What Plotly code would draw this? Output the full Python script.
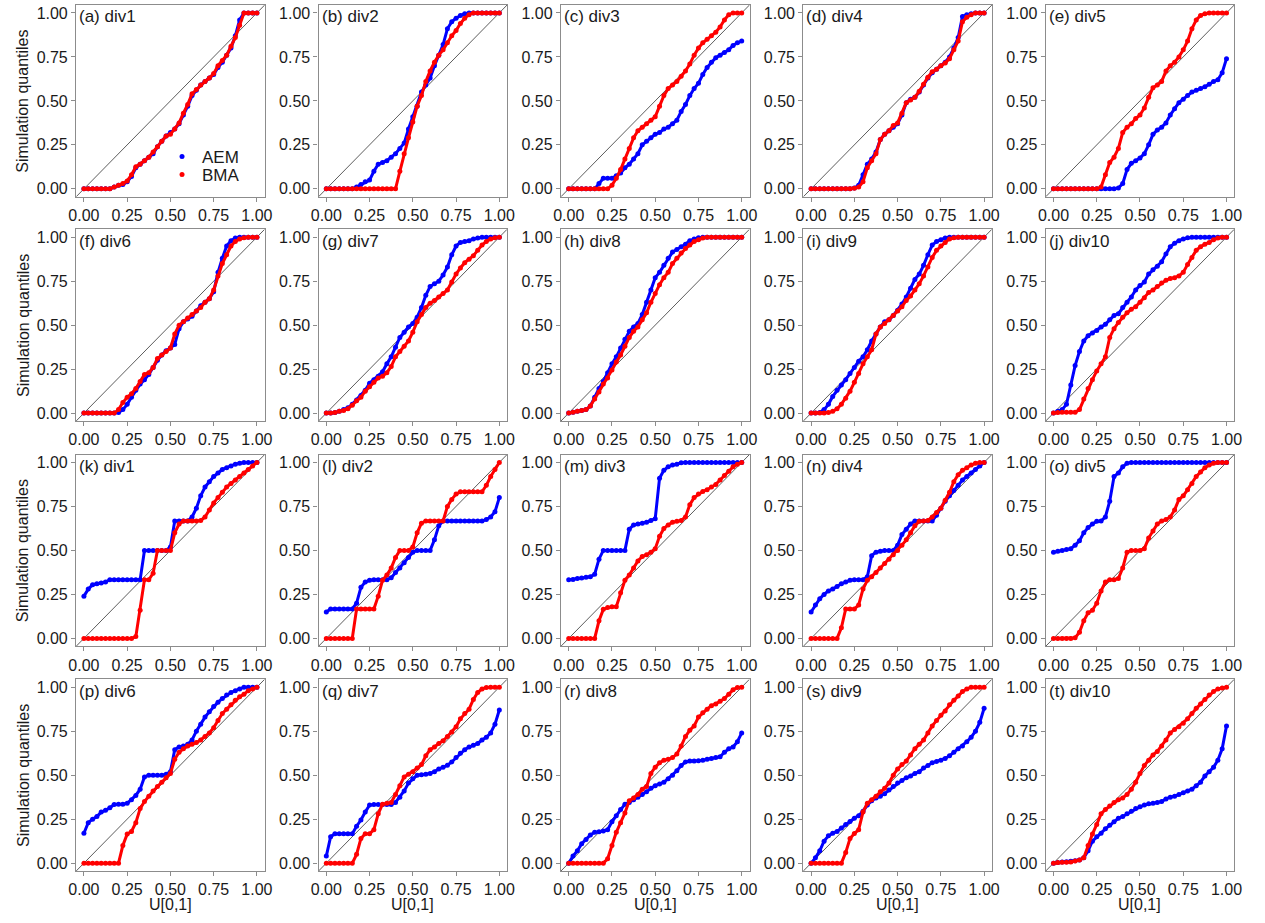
import plotly.graph_objects as go

# Uniform quantile positions U[0,1]
U = [0.0, 0.025, 0.05, 0.075, 0.1, 0.125, 0.15, 0.175, 0.2, 0.225,
     0.25, 0.275, 0.3, 0.325, 0.35, 0.375, 0.4, 0.425, 0.45, 0.475,
     0.5, 0.525, 0.55, 0.575, 0.6, 0.625, 0.65, 0.675, 0.7, 0.725,
     0.75, 0.775, 0.8, 0.825, 0.85, 0.875, 0.9, 0.925, 0.95, 0.975, 1.0]

TICKVALS = [0, 0.25, 0.5, 0.75, 1.0]
TICKTEXT = ["0.00", "0.25", "0.50", "0.75", "1.00"]

LABELS = ["(a) div1", "(b) div2", "(c) div3", "(d) div4", "(e) div5",
          "(f) div6", "(g) div7", "(h) div8", "(i) div9", "(j) div10",
          "(k) div1", "(l) div2", "(m) div3", "(n) div4", "(o) div5",
          "(p) div6", "(q) div7", "(r) div8", "(s) div9", "(t) div10"]

aem_a = [0,0,0,0,0,0,0,0.01,0.02,0.025, 0.04,0.07,0.12,0.14,0.16,0.18,0.20,0.24,0.27,0.30,
         0.32,0.34,0.37,0.42,0.47,0.53,0.56,0.59,0.61,0.63, 0.65,0.69,0.72,0.76,0.80,0.87,0.96,1,1,1, 1]
bma_a = [0,0,0,0,0,0,0,0.01,0.02,0.03, 0.045,0.08,0.125,0.14,0.16,0.18,0.21,0.24,0.27,0.30,
         0.31,0.34,0.375,0.43,0.48,0.54,0.565,0.59,0.61,0.63, 0.655,0.70,0.73,0.76,0.81,0.86,0.93,1,1,1, 1]
aem_b = [0,0,0,0,0,0,0,0.01,0.025,0.04, 0.05,0.10,0.14,0.15,0.16,0.18,0.20,0.23,0.26,0.34,
         0.41,0.47,0.55,0.59,0.63,0.70,0.76,0.82,0.91,0.95, 0.97,0.985,0.995,1,1,1,1,1,1,1, 1]
bma_b = [0,0,0,0,0,0,0,0,0,0, 0,0,0,0,0,0,0,0.10,0.20,0.29,
         0.38,0.47,0.53,0.61,0.67,0.72,0.76,0.79,0.83,0.87, 0.90,0.94,0.97,0.99,1,1,1,1,1,1, 1]
aem_c = [0,0,0,0,0,0,0,0.03,0.06,0.06, 0.06,0.075,0.09,0.12,0.14,0.17,0.20,0.25,0.27,0.29,
         0.31,0.32,0.34,0.35,0.37,0.39,0.44,0.48,0.53,0.57, 0.60,0.65,0.69,0.72,0.745,0.76,0.775,0.79,0.815,0.83, 0.84]
bma_c = [0,0,0,0,0,0,0,0,0,0, 0.02,0.06,0.11,0.17,0.23,0.29,0.33,0.35,0.37,0.39,
         0.41,0.47,0.53,0.57,0.59,0.61,0.64,0.67,0.71,0.76, 0.80,0.83,0.85,0.87,0.89,0.92,0.96,0.99,1,1, 1]
aem_d = [0,0,0,0,0,0,0,0,0,0, 0.005,0.02,0.08,0.14,0.17,0.21,0.28,0.31,0.33,0.35,
         0.37,0.42,0.49,0.51,0.52,0.55,0.59,0.63,0.66,0.68, 0.70,0.72,0.75,0.80,0.86,0.98,0.99,0.995,1,1, 1]
bma_d = [0,0,0,0,0,0,0,0,0,0, 0.003,0.01,0.04,0.12,0.16,0.20,0.28,0.31,0.33,0.36,
         0.375,0.43,0.49,0.505,0.52,0.555,0.595,0.635,0.665,0.68, 0.70,0.715,0.74,0.79,0.84,0.95,0.975,0.99,1,1, 1]
aem_e = [0,0,0,0,0,0,0,0,0,0, 0,0,0,0,0,0.005,0.03,0.11,0.145,0.16,
         0.175,0.20,0.25,0.31,0.335,0.35,0.375,0.42,0.455,0.49, 0.51,0.53,0.55,0.56,0.57,0.58,0.595,0.61,0.62,0.66, 0.74]
bma_e = [0,0,0,0,0,0,0,0,0,0, 0,0.01,0.08,0.15,0.18,0.23,0.32,0.35,0.37,0.40,
         0.42,0.46,0.52,0.575,0.59,0.61,0.67,0.70,0.72,0.75, 0.79,0.84,0.91,0.96,0.985,0.995,1,1,1,1, 1]
aem_f = [0,0,0,0,0,0,0,0,0.003,0.02, 0.05,0.09,0.13,0.165,0.19,0.22,0.26,0.30,0.33,0.355,
         0.37,0.39,0.48,0.52,0.535,0.55,0.58,0.61,0.63,0.65, 0.69,0.80,0.88,0.95,0.98,0.995,1,1,1,1, 1]
bma_f = [0,0,0,0,0,0,0,0,0.02,0.06, 0.09,0.11,0.14,0.18,0.22,0.23,0.26,0.31,0.33,0.35,
         0.37,0.45,0.50,0.52,0.54,0.56,0.58,0.60,0.63,0.65, 0.70,0.78,0.85,0.90,0.95,0.975,0.99,0.997,1,1, 1]
aem_g = [0,0,0.003,0.01,0.02,0.03,0.05,0.075,0.10,0.13, 0.17,0.19,0.21,0.235,0.28,0.32,0.375,0.43,0.46,0.49,
         0.51,0.545,0.60,0.67,0.72,0.735,0.75,0.785,0.83,0.90, 0.95,0.97,0.975,0.98,0.99,0.995,1,1,1,1, 1]
bma_g = [0,0,0.003,0.01,0.015,0.025,0.045,0.07,0.09,0.125, 0.15,0.175,0.20,0.21,0.23,0.265,0.32,0.35,0.38,0.41,
         0.46,0.52,0.56,0.60,0.625,0.64,0.66,0.68,0.70,0.745, 0.79,0.825,0.855,0.875,0.895,0.925,0.955,0.975,0.99,0.997, 1]
aem_h = [0,0.005,0.01,0.015,0.02,0.04,0.09,0.14,0.18,0.23, 0.28,0.32,0.37,0.42,0.465,0.49,0.51,0.56,0.63,0.70,
         0.77,0.80,0.84,0.88,0.915,0.93,0.945,0.96,0.98,0.99, 0.997,1,1,1,1,1,1,1,1,1, 1]
bma_h = [0,0.005,0.01,0.015,0.02,0.04,0.08,0.12,0.165,0.20, 0.245,0.29,0.33,0.38,0.43,0.465,0.49,0.53,0.57,0.63,
         0.68,0.73,0.77,0.80,0.85,0.88,0.91,0.935,0.955,0.975, 0.985,0.995,1,1,1,1,1,1,1,1, 1]
aem_i = [0,0,0.003,0.02,0.05,0.095,0.13,0.16,0.19,0.225, 0.26,0.295,0.32,0.36,0.41,0.45,0.49,0.52,0.53,0.555,
         0.585,0.62,0.66,0.71,0.76,0.79,0.84,0.90,0.955,0.975, 0.985,0.995,1,1,1,1,1,1,1,1, 1]
bma_i = [0,0,0,0,0.003,0.01,0.025,0.05,0.085,0.125, 0.175,0.225,0.28,0.32,0.36,0.45,0.49,0.51,0.53,0.555,
         0.58,0.605,0.64,0.665,0.70,0.735,0.78,0.83,0.885,0.925, 0.95,0.97,0.99,0.997,1,1,1,1,1,1, 1]
aem_j = [0,0.01,0.02,0.05,0.16,0.27,0.35,0.41,0.44,0.455, 0.47,0.49,0.505,0.53,0.555,0.565,0.60,0.63,0.66,0.70,
         0.725,0.745,0.79,0.815,0.835,0.86,0.905,0.945,0.965,0.98, 0.99,0.997,1,1,1,1,1,1,1,1, 1]
bma_j = [0,0.003,0.005,0.005,0.005,0.005,0.02,0.08,0.14,0.19, 0.24,0.28,0.32,0.43,0.48,0.515,0.545,0.57,0.59,0.605,
         0.63,0.655,0.685,0.70,0.72,0.74,0.755,0.765,0.77,0.78, 0.80,0.845,0.885,0.925,0.945,0.96,0.97,0.985,0.995,1, 1]
aem_k = [0.24,0.28,0.305,0.31,0.315,0.32,0.333,0.333,0.333,0.333, 0.333,0.333,0.333,0.333,0.50,0.50,0.50,0.50,0.50,0.50,
         0.52,0.667,0.667,0.667,0.667,0.69,0.74,0.81,0.86,0.89, 0.92,0.94,0.96,0.97,0.98,0.99,0.995,1,1,1, 1]
bma_k = [0,0,0,0,0,0,0,0,0,0, 0,0,0.01,0.16,0.333,0.333,0.37,0.50,0.50,0.50,
         0.50,0.60,0.65,0.667,0.667,0.667,0.667,0.67,0.69,0.73, 0.77,0.80,0.83,0.86,0.88,0.90,0.92,0.94,0.96,0.98, 1]
aem_l = [0.15,0.167,0.167,0.167,0.167,0.167,0.167,0.20,0.29,0.32, 0.33,0.333,0.333,0.333,0.333,0.345,0.375,0.40,0.43,0.46,
         0.49,0.50,0.50,0.50,0.50,0.56,0.64,0.667,0.667,0.667, 0.667,0.667,0.667,0.667,0.667,0.667,0.667,0.675,0.69,0.72, 0.80]
bma_l = [0,0,0,0,0,0,0,0.167,0.167,0.167, 0.167,0.167,0.24,0.33,0.36,0.40,0.46,0.50,0.50,0.50,
         0.52,0.60,0.655,0.667,0.667,0.667,0.667,0.667,0.75,0.79, 0.82,0.833,0.833,0.833,0.833,0.833,0.833,0.87,0.92,0.96, 1]
aem_m = [0.333,0.335,0.34,0.343,0.347,0.35,0.365,0.45,0.50,0.50, 0.50,0.50,0.50,0.50,0.62,0.645,0.65,0.655,0.66,0.67,
         0.68,0.91,0.955,0.975,0.985,0.99,0.998,1,1,1, 1,1,1,1,1,1,1,1,1,1, 1]
bma_m = [0,0,0,0,0,0,0,0.10,0.165,0.175, 0.18,0.18,0.26,0.33,0.36,0.40,0.44,0.465,0.475,0.49,
         0.51,0.58,0.625,0.645,0.66,0.665,0.67,0.69,0.76,0.80, 0.82,0.835,0.845,0.86,0.875,0.90,0.925,0.95,0.975,0.99, 1]
aem_n = [0.15,0.19,0.225,0.25,0.27,0.28,0.295,0.31,0.32,0.33, 0.333,0.333,0.333,0.35,0.47,0.49,0.495,0.50,0.50,0.50,
         0.53,0.59,0.62,0.65,0.667,0.667,0.667,0.667,0.667,0.70, 0.74,0.78,0.81,0.84,0.87,0.90,0.92,0.94,0.96,0.98, 1]
bma_n = [0,0,0,0,0,0,0,0.06,0.167,0.167, 0.167,0.19,0.28,0.33,0.35,0.375,0.40,0.425,0.45,0.475,
         0.50,0.53,0.56,0.60,0.64,0.665,0.667,0.67,0.69,0.715, 0.74,0.785,0.83,0.89,0.93,0.955,0.97,0.985,0.995,1, 1]
aem_o = [0.49,0.495,0.50,0.505,0.51,0.53,0.555,0.60,0.63,0.65, 0.665,0.667,0.69,0.78,0.92,0.94,0.975,0.995,1,1,
         1,1,1,1,1,1,1,1,1,1, 1,1,1,1,1,1,1,1,1,1, 1]
bma_o = [0,0,0,0,0,0.003,0.035,0.10,0.145,0.16, 0.20,0.27,0.32,0.333,0.333,0.34,0.40,0.49,0.50,0.50,
         0.50,0.51,0.57,0.61,0.65,0.667,0.675,0.69,0.73,0.79, 0.81,0.845,0.88,0.92,0.945,0.97,0.985,0.995,1,1, 1]
aem_p = [0.17,0.23,0.25,0.265,0.29,0.30,0.315,0.333,0.335,0.335, 0.34,0.36,0.385,0.42,0.49,0.50,0.50,0.50,0.50,0.505,
         0.52,0.645,0.66,0.665,0.675,0.70,0.75,0.79,0.83,0.86, 0.89,0.915,0.935,0.955,0.97,0.98,0.99,1,1,1, 1]
bma_p = [0,0,0,0,0,0,0,0,0,0.10, 0.165,0.18,0.23,0.31,0.35,0.38,0.41,0.435,0.46,0.485,
         0.51,0.59,0.63,0.65,0.665,0.675,0.685,0.70,0.72,0.74, 0.77,0.81,0.85,0.875,0.90,0.925,0.945,0.96,0.98,0.99, 1]
aem_q = [0.04,0.15,0.167,0.167,0.167,0.167,0.167,0.21,0.245,0.29, 0.33,0.333,0.333,0.333,0.333,0.333,0.345,0.375,0.41,0.455,
         0.48,0.50,0.502,0.505,0.51,0.52,0.535,0.545,0.557,0.575, 0.60,0.625,0.645,0.66,0.67,0.68,0.70,0.715,0.74,0.79, 0.87]
bma_q = [0,0,0,0,0,0,0,0.05,0.14,0.167, 0.167,0.19,0.28,0.335,0.34,0.345,0.39,0.44,0.49,0.505,
         0.52,0.54,0.56,0.61,0.645,0.66,0.68,0.695,0.72,0.745, 0.775,0.82,0.85,0.875,0.93,0.97,0.99,0.998,1,1, 1]
aem_r = [0,0.04,0.07,0.11,0.135,0.16,0.175,0.178,0.183,0.19, 0.235,0.27,0.305,0.335,0.345,0.36,0.375,0.39,0.405,0.425,
         0.44,0.45,0.46,0.48,0.50,0.525,0.555,0.575,0.58,0.58, 0.582,0.585,0.59,0.595,0.60,0.605,0.63,0.65,0.66,0.69, 0.74]
bma_r = [0,0,0,0,0,0,0,0,0,0.025, 0.10,0.175,0.23,0.285,0.355,0.37,0.39,0.42,0.435,0.51,
         0.545,0.57,0.585,0.59,0.60,0.62,0.665,0.72,0.755,0.78, 0.83,0.855,0.875,0.895,0.905,0.92,0.935,0.96,0.985,0.998, 1]
aem_s = [0,0.03,0.07,0.125,0.155,0.17,0.18,0.20,0.22,0.237, 0.255,0.27,0.295,0.33,0.355,0.37,0.38,0.395,0.415,0.435,
         0.455,0.47,0.485,0.495,0.51,0.52,0.54,0.555,0.57,0.578, 0.585,0.595,0.61,0.63,0.65,0.665,0.69,0.715,0.75,0.80, 0.88]
bma_s = [0,0,0,0,0,0,0,0,0.06,0.14, 0.168,0.19,0.29,0.34,0.36,0.38,0.405,0.425,0.455,0.50,
         0.535,0.56,0.58,0.615,0.65,0.675,0.70,0.74,0.78,0.81, 0.84,0.865,0.90,0.925,0.95,0.975,0.99,1,1,1, 1]
aem_t = [0,0.003,0.006,0.008,0.01,0.013,0.018,0.03,0.07,0.125, 0.15,0.17,0.195,0.215,0.235,0.255,0.265,0.28,0.295,0.31,
         0.32,0.33,0.337,0.34,0.345,0.35,0.365,0.375,0.38,0.39, 0.40,0.41,0.42,0.44,0.46,0.495,0.52,0.545,0.585,0.65, 0.78]
bma_t = [0,0.003,0.005,0.005,0.007,0.012,0.018,0.03,0.10,0.165, 0.22,0.28,0.305,0.325,0.345,0.36,0.37,0.39,0.42,0.46,
         0.51,0.555,0.585,0.615,0.635,0.665,0.70,0.74,0.76,0.775, 0.795,0.82,0.85,0.88,0.905,0.93,0.955,0.975,0.99,0.995, 1]

AEM = [aem_a, aem_b, aem_c, aem_d, aem_e, aem_f, aem_g, aem_h, aem_i, aem_j,
       aem_k, aem_l, aem_m, aem_n, aem_o, aem_p, aem_q, aem_r, aem_s, aem_t]
BMA = [bma_a, bma_b, bma_c, bma_d, bma_e, bma_f, bma_g, bma_h, bma_i, bma_j,
       bma_k, bma_l, bma_m, bma_n, bma_o, bma_p, bma_q, bma_r, bma_s, bma_t]

W, H = 1265, 923
COL_LEFT = [69, 314.5, 560, 805.5, 1051]
PANEL_W = 191
ROW_TOP = [5, 229.5, 455, 680]
PANEL_H = 192
RNG = [-0.045, 1.045]
FONT = "Liberation Sans, Arial, sans-serif"
BLUE = "#0000ff"
RED = "#ff0000"
BOX = "#8c8c8c"
TXT = "#1a1a1a"

fig = go.Figure()
shapes = []
annotations = []
layout_axes = {}

for idx in range(20):
    r, c = divmod(idx, 5)
    n = idx + 1
    xs = "" if n == 1 else str(n)
    xname, yname = "x" + xs, "y" + xs
    x0 = COL_LEFT[c] / W
    x1 = (COL_LEFT[c] + PANEL_W) / W
    y1 = 1 - ROW_TOP[r] / H
    y0 = 1 - (ROW_TOP[r] + PANEL_H) / H
    axcommon = dict(range=RNG, tickvals=TICKVALS, ticktext=TICKTEXT, ticks="outside",
                    ticklen=4, tickwidth=1, tickcolor=BOX, showline=True, mirror=True,
                    linecolor=BOX, linewidth=1.3, showgrid=False, zeroline=False,
                    tickfont=dict(family=FONT, size=16, color=TXT), fixedrange=True)
    layout_axes["xaxis" + xs] = dict(domain=[x0, x1], anchor=yname, **axcommon)
    layout_axes["yaxis" + xs] = dict(domain=[y0, y1], anchor=xname, **axcommon)

    shapes.append(dict(type="line", xref=xname, yref=yname, x0=RNG[0], y0=RNG[0],
                       x1=RNG[1], y1=RNG[1], line=dict(color="#333333", width=0.8),
                       layer="below"))

    for name, vals, col, leg in (("AEM", AEM[idx], BLUE, "legend"),
                                 ("BMA", BMA[idx], RED, "legend2")):
        # thin connecting stroke so the dense dot band reads as continuous
        fig.add_trace(go.Scatter(x=U, y=vals, mode="lines", name=name,
                                 line=dict(color=col, width=3),
                                 xaxis=xname, yaxis=yname, showlegend=False,
                                 hoverinfo="skip"))
        fig.add_trace(go.Scatter(x=U, y=vals, mode="markers", name=name,
                                 marker=dict(color=col, size=5, line=dict(width=0)),
                                 xaxis=xname, yaxis=yname, showlegend=(idx == 0),
                                 legend=leg))

    annotations.append(dict(text=LABELS[idx], xref="paper", yref="paper",
                            x=(COL_LEFT[c] + 1) / W, y=1 - (ROW_TOP[r] + 12) / H,
                            xanchor="left", yanchor="middle", showarrow=False,
                            font=dict(family=FONT, size=17, color=TXT)))
    if c == 0:
        annotations.append(dict(text="Simulation quantiles", xref="paper", yref="paper",
                                x=15 / W, y=1 - (ROW_TOP[r] + PANEL_H / 2) / H,
                                xanchor="center", yanchor="middle", textangle=-90,
                                showarrow=False,
                                font=dict(family=FONT, size=16, color=TXT)))
    if r == 3:
        annotations.append(dict(text="U[0,1]", xref="paper", yref="paper",
                                x=(COL_LEFT[c] + PANEL_W / 2) / W, y=1 - 905 / H,
                                xanchor="center", yanchor="middle", showarrow=False,
                                font=dict(family=FONT, size=16, color=TXT)))

legend_common = dict(xanchor="left", yanchor="top", bgcolor="rgba(0,0,0,0)",
                     borderwidth=0, itemsizing="trace",
                     font=dict(family=FONT, size=17, color=TXT))

fig.update_layout(
    width=W, height=H, margin=dict(l=0, r=0, t=0, b=0),
    paper_bgcolor="white", plot_bgcolor="white",
    shapes=shapes, annotations=annotations,
    legend=dict(x=156 / W, y=1 - 139 / H, **legend_common),
    legend2=dict(x=156 / W, y=1 - 157 / H, **legend_common),
    **layout_axes,
)

fig.write_html("out.html")
